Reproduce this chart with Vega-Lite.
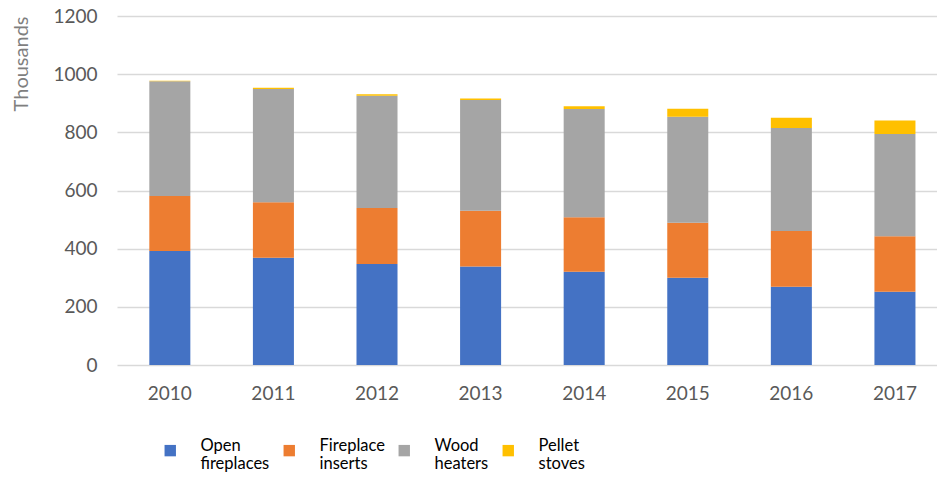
{
  "$schema": "https://vega.github.io/schema/vega-lite/v6.json",
  "width": 820,
  "height": 349,
  "autosize": {"type": "none"},
  "padding": {"left": 117, "top": 16, "right": 0, "bottom": 120},
  "background": "white",
  "config": {
    "view": {"stroke": null},
    "font": "Lato",
    "axis": {"labelFont": "Lato", "titleFont": "Lato"},
    "legend": {"labelFont": "Lato"}
  },
  "data": {
    "values": [
      {"year": "2010", "type": "Open fireplaces", "k": 1, "value": 392},
      {"year": "2010", "type": "Fireplace inserts", "k": 2, "value": 189},
      {"year": "2010", "type": "Wood heaters", "k": 3, "value": 395},
      {"year": "2010", "type": "Pellet stoves", "k": 4, "value": 1},
      {"year": "2011", "type": "Open fireplaces", "k": 1, "value": 369},
      {"year": "2011", "type": "Fireplace inserts", "k": 2, "value": 191},
      {"year": "2011", "type": "Wood heaters", "k": 3, "value": 389},
      {"year": "2011", "type": "Pellet stoves", "k": 4, "value": 4},
      {"year": "2012", "type": "Open fireplaces", "k": 1, "value": 347},
      {"year": "2012", "type": "Fireplace inserts", "k": 2, "value": 193},
      {"year": "2012", "type": "Wood heaters", "k": 3, "value": 386},
      {"year": "2012", "type": "Pellet stoves", "k": 4, "value": 5},
      {"year": "2013", "type": "Open fireplaces", "k": 1, "value": 339},
      {"year": "2013", "type": "Fireplace inserts", "k": 2, "value": 191},
      {"year": "2013", "type": "Wood heaters", "k": 3, "value": 381},
      {"year": "2013", "type": "Pellet stoves", "k": 4, "value": 5},
      {"year": "2014", "type": "Open fireplaces", "k": 1, "value": 321},
      {"year": "2014", "type": "Fireplace inserts", "k": 2, "value": 187},
      {"year": "2014", "type": "Wood heaters", "k": 3, "value": 372},
      {"year": "2014", "type": "Pellet stoves", "k": 4, "value": 10},
      {"year": "2015", "type": "Open fireplaces", "k": 1, "value": 300},
      {"year": "2015", "type": "Fireplace inserts", "k": 2, "value": 189},
      {"year": "2015", "type": "Wood heaters", "k": 3, "value": 365},
      {"year": "2015", "type": "Pellet stoves", "k": 4, "value": 27},
      {"year": "2016", "type": "Open fireplaces", "k": 1, "value": 269},
      {"year": "2016", "type": "Fireplace inserts", "k": 2, "value": 192},
      {"year": "2016", "type": "Wood heaters", "k": 3, "value": 354},
      {"year": "2016", "type": "Pellet stoves", "k": 4, "value": 35},
      {"year": "2017", "type": "Open fireplaces", "k": 1, "value": 252},
      {"year": "2017", "type": "Fireplace inserts", "k": 2, "value": 191},
      {"year": "2017", "type": "Wood heaters", "k": 3, "value": 351},
      {"year": "2017", "type": "Pellet stoves", "k": 4, "value": 47}
    ]
  },
  "mark": {"type": "bar"},
  "encoding": {
    "x": {
      "field": "year",
      "type": "nominal",
      "scale": {"paddingInner": 0.604, "paddingOuter": 0.26, "align": 0.6},
      "axis": {
        "title": null,
        "labelAngle": 0,
        "labelFontSize": 19,
        "labelColor": "#595959",
        "ticks": false,
        "domain": false,
        "labelPadding": 19
      }
    },
    "y": {
      "field": "value",
      "type": "quantitative",
      "stack": "zero",
      "scale": {"domain": [0, 1200]},
      "axis": {
        "title": "Thousands",
        "titleAnchor": "end",
        "titleFontSize": 20,
        "titleFontWeight": "normal",
        "titleColor": "#7f7f7f",
        "titleX": -86,
        "format": "d",
        "values": [0, 200, 400, 600, 800, 1000, 1200],
        "labelFontSize": 19,
        "labelColor": "#595959",
        "ticks": false,
        "domain": false,
        "labelPadding": 20,
        "gridColor": "#d9d9d9",
        "gridWidth": 1.5
      }
    },
    "color": {
      "field": "type",
      "type": "nominal",
      "scale": {
        "domain": ["Open fireplaces", "Fireplace inserts", "Wood heaters", "Pellet stoves"],
        "range": ["#4472C4", "#ED7D31", "#A5A5A5", "#FFC000"]
      },
      "legend": {
        "title": null,
        "orient": "none",
        "legendX": 45,
        "legendY": 426,
        "direction": "horizontal",
        "columns": 4,
        "symbolType": "square",
        "symbolSize": 130,
        "symbolStrokeWidth": 0,
        "labelFontSize": 16.5,
        "labelLineHeight": 21,
        "labelColor": "#000000",
        "labelOffset": 22,
        "labelBaseline": "alphabetic",
        "labelExpr": "split(datum.label, ' ')",
        "labelLimit": 200,
        "columnPadding": 11
      }
    },
    "order": {"field": "k", "type": "quantitative"}
  }
}
